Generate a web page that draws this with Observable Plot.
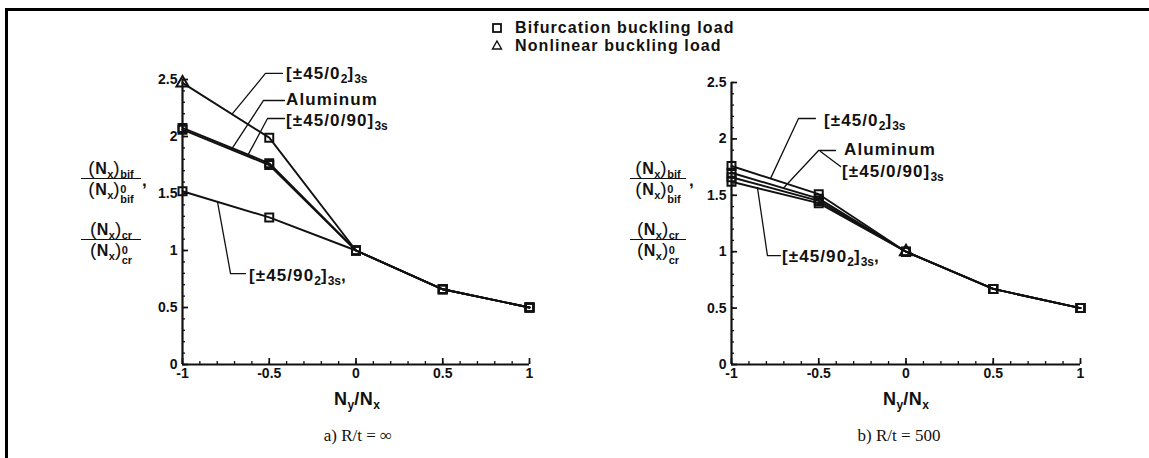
<!DOCTYPE html>
<html>
<head>
<meta charset="utf-8">
<script src="https://cdn.jsdelivr.net/npm/d3@7"></script>
<script src="https://cdn.jsdelivr.net/npm/@observablehq/plot@0.6"></script>
<style>
  body { margin: 0; background: #fff; }
  #fig { position: relative; width: 1149px; height: 458px; overflow: hidden; background: #fff;
         font-family: "Liberation Sans", Arial, Helvetica, sans-serif; font-weight: bold; color: #111; }
  .abs { position: absolute; white-space: nowrap; line-height: 1; }
  .lab { font-size: 17px; letter-spacing: 1.1px; transform: translateY(-50%); }
  .lab sub, .xl sub { font-size: 12px; vertical-align: -0.35em; letter-spacing: 0; line-height: 0; }
  .lg { font-size: 16px; letter-spacing: 1.1px; transform: translateY(-50%); line-height: 16px; }
  .xl { font-size: 18px; transform: translate(-50%, -50%); letter-spacing: 0.5px; }
  .cap { font-family: "Liberation Serif", "Times New Roman", serif; font-weight: normal; font-size: 17px;
         transform: translate(-50%, -50%); }
  .frac { position: absolute; text-align: center; font-size: 16px; letter-spacing: 0.5px; }
  .frac .p { font-size: 19px; font-weight: normal; }
  .frac .num { height: 20px; line-height: 20px; }
  .frac .bar { border-top: 1.6px solid #111; }
  .frac .den { line-height: 20px; }
  .frac sub { font-size: 11px; vertical-align: -0.35em; line-height: 0; letter-spacing: 0; }
  .ss { display: inline-block; vertical-align: -8px; line-height: 10px; font-size: 11px; text-align: left; letter-spacing: 0; }
  .ss span { display: block; }
  .frame { position: absolute; background: #000; }
</style>
</head>
<body>
<div id="fig"></div>
<script>
// ---------- data ----------
const nyNx = [-1, -0.5, 0, 0.5, 1];
const laminates = ["[±45/0₂]3s", "Aluminum", "[±45/0/90]3s", "[±45/90₂]3s"];
const loadTypes = ["Bifurcation buckling load", "Nonlinear buckling load"];

// a) R/t = ∞
const infPm45_02   = [2.47, 1.99, 1.00, 0.66, 0.50];
const infAluminum  = [2.075, 1.765, 1.00, 0.66, 0.50];
const infPm45_0_90 = [2.06, 1.75, 1.00, 0.66, 0.50];
const infPm45_902  = [1.52, 1.29, 1.00, 0.66, 0.50];
// b) R/t = 500
const r500Pm45_02   = [1.76, 1.51, 1.00, 0.67, 0.50];
const r500Aluminum  = [1.70, 1.47, 1.00, 0.67, 0.50];
const r500Pm45_0_90 = [1.66, 1.45, 1.00, 0.67, 0.50];
const r500Pm45_902  = [1.62, 1.43, 1.00, 0.67, 0.50];

// points plotted as nonlinear buckling load (the rest are bifurcation loads)
const infNonlinear  = [["[±45/0₂]3s", -1]];
const r500Nonlinear = [["[±45/0₂]3s", 0]];

const xTicks = [-1, -0.5, 0, 0.5, 1];
const yTicks = [0, 0.5, 1, 1.5, 2, 2.5];
const xMinor = d3.range(-10, 11).map(i => i / 10);
const yMinor = d3.range(0, 26).map(i => i / 10);

// label leader lines (in data units)
const infLeaderPm45_02   = [[-0.424, 2.553], [-0.522, 2.553], [-0.712, 2.20]];
const infLeaderAluminum  = [[-0.412, 2.316], [-0.533, 2.316], [-0.712, 1.90]];
const infLeaderPm45_0_90 = [[-0.412, 2.158], [-0.510, 2.158], [-0.620, 1.845]];
const infLeaderPm45_902  = [[-0.637, 0.798], [-0.723, 0.798], [-0.798, 1.425]];
const r500LeaderPm45_02   = [[-0.519, 2.181], [-0.616, 2.181], [-0.776, 1.65]];
const r500LeaderAluminum  = [[-0.404, 1.897], [-0.501, 1.897], [-0.702, 1.565]];
const r500LeaderPm45_0_90 = [[-0.375, 1.755], [-0.490, 1.888]];
const r500LeaderPm45_902  = [[-0.719, 0.966], [-0.794, 0.966], [-0.851, 1.565]];

// ---------- drawing ----------
const fig = document.getElementById("fig");
const FONT = '"Liberation Sans", Arial, Helvetica, sans-serif';

function makePanel({values, nonlinear, leaders, left, width, ml, mr, mt, mb}) {
  const height = 458;
  const fw = width - ml - mr, fh = height - mt - mb;
  const rows = [];
  laminates.forEach((name, s) => values[s].forEach((v, i) => rows.push({
    laminate: name, ny: nyNx[i], ratio: v,
    load: nonlinear.some(([n, x]) => n === name && x === nyNx[i]) ? loadTypes[1] : loadTypes[0]
  })));
  const leaderRows = leaders.flatMap((pts, k) => pts.map(([x, y]) => ({k, x, y})));
  const svg = Plot.plot({
    width, height, marginLeft: ml, marginRight: mr, marginTop: mt, marginBottom: mb,
    x: {domain: [-1, 1], label: null},
    y: {domain: [0, 2.5], label: null},
    symbol: {domain: loadTypes, range: ["square", "triangle"]},
    style: {fontFamily: FONT, fontSize: "14px", fontWeight: "bold", color: "#111",
            background: "transparent", overflow: "visible"},
    marks: [
      Plot.tickX(xMinor, {x: d => d, insetTop: fh - 3, stroke: "#111", strokeWidth: 1.3}),
      Plot.tickX(xTicks, {x: d => d, insetTop: fh - 6, stroke: "#111", strokeWidth: 1.7}),
      Plot.tickY(yMinor, {y: d => d, insetRight: fw - 3, stroke: "#111", strokeWidth: 1.3}),
      Plot.tickY(yTicks, {y: d => d, insetRight: fw - 6, stroke: "#111", strokeWidth: 1.7}),
      Plot.ruleX([-1], {stroke: "#111", strokeWidth: 2.2}),
      Plot.ruleY([0], {stroke: "#111", strokeWidth: 2.2}),
      Plot.axisX({ticks: xTicks, tickSize: 0, tickPadding: 4, label: null,
                  tickFormat: d => String(d), fontSize: 14, fontWeight: "bold"}),
      Plot.axisY({ticks: yTicks, tickSize: 0, tickPadding: 5, label: null,
                  tickFormat: d => String(d), fontSize: 14, fontWeight: "bold"}),
      Plot.line(rows, {x: "ny", y: "ratio", z: "laminate", stroke: "#111", strokeWidth: 1.9}),
      Plot.dot(rows, {x: "ny", y: "ratio", symbol: "load", r: 4.5, stroke: "#111",
                      strokeWidth: 2, fill: "none"}),
      Plot.line(leaderRows, {x: "x", y: "y", z: "k", stroke: "#111", strokeWidth: 1.3})
    ]
  });
  svg.style.position = "absolute";
  svg.style.left = left + "px";
  svg.style.top = "0px";
  fig.appendChild(svg);
}

makePanel({
  values: [infPm45_02, infAluminum, infPm45_0_90, infPm45_902],
  nonlinear: infNonlinear,
  leaders: [infLeaderPm45_02, infLeaderAluminum, infLeaderPm45_0_90, infLeaderPm45_902],
  left: 0, width: 575, ml: 182, mr: 46, mt: 79, mb: 94
});
makePanel({
  values: [r500Pm45_02, r500Aluminum, r500Pm45_0_90, r500Pm45_902],
  nonlinear: r500Nonlinear,
  leaders: [r500LeaderPm45_02, r500LeaderAluminum, r500LeaderPm45_0_90, r500LeaderPm45_902],
  left: 575, width: 574, ml: 156, mr: 69, mt: 82, mb: 94
});

// ---------- text overlays ----------
function add(html, cls, x, y, extra = "") {
  const d = document.createElement("div");
  d.className = "abs " + cls;
  d.style.left = x + "px";
  d.style.top = y + "px";
  d.style.cssText += extra;
  d.innerHTML = html;
  fig.appendChild(d);
  return d;
}

// frame lines
add("", "frame", 0, 8, "left:5px;width:1144px;height:3px;");
add("", "frame", 5, 8, "width:3px;height:450px;");

// legend
add('<svg width="12" height="12" style="display:block"><rect x="2" y="2" width="8" height="8" fill="none" stroke="#111" stroke-width="1.8"/></svg>', "", 491, 22);
add('<svg width="12" height="12" style="display:block"><path d="M6,2 L10.5,10 L1.5,10 Z" fill="none" stroke="#111" stroke-width="1.4"/></svg>', "", 491, 39);
add("Bifurcation buckling load", "lg", 515, 28);
add("Nonlinear buckling load", "lg", 515, 46);

// panel a labels
add("[±45/0<sub>2</sub>]<sub>3s</sub>", "lab", 286, 73);
add("Aluminum", "lab", 286, 99);
add("[±45/0/90]<sub>3s</sub>", "lab", 286, 120);
add("[±45/90<sub>2</sub>]<sub>3s</sub>,", "lab", 249, 275);
// panel b labels
add("[±45/0<sub>2</sub>]<sub>3s</sub>", "lab", 824, 120);
add("Aluminum", "lab", 844, 149);
add("[±45/0/90]<sub>3s</sub>", "lab", 842, 171);
add("[±45/90<sub>2</sub>]<sub>3s</sub>,", "lab", 782, 256);

// y-axis fractions
function frac(x, barY, w, kind) {
  const html = `<div class="num"><span class="p">(</span>N<sub>x</sub><span class="p">)</span><sub>${kind}</sub></div><div class="bar"></div>` +
               `<div class="den"><span class="p">(</span>N<sub>x</sub><span class="p">)</span><span class="ss"><span>0</span><span>${kind}</span></span></div>`;
  const d = add(html, "frac", x, barY - 20);
  d.style.width = w + "px";
}
frac(81, 178, 60, "bif"); frac(81, 239, 60, "cr");
add(",", "", 142, 172, "font-size:17px;");
frac(630, 178, 56, "bif"); frac(630, 239, 56, "cr");
add(",", "", 689, 172, "font-size:17px;");

// x-axis titles and captions
add("N<sub>y</sub>/N<sub>x</sub>", "xl", 357, 399);
add("N<sub>y</sub>/N<sub>x</sub>", "xl", 906, 399);
add("a) R/t = ∞", "cap", 358, 435);
add("b) R/t = 500", "cap", 899, 435);
</script>
</body>
</html>
